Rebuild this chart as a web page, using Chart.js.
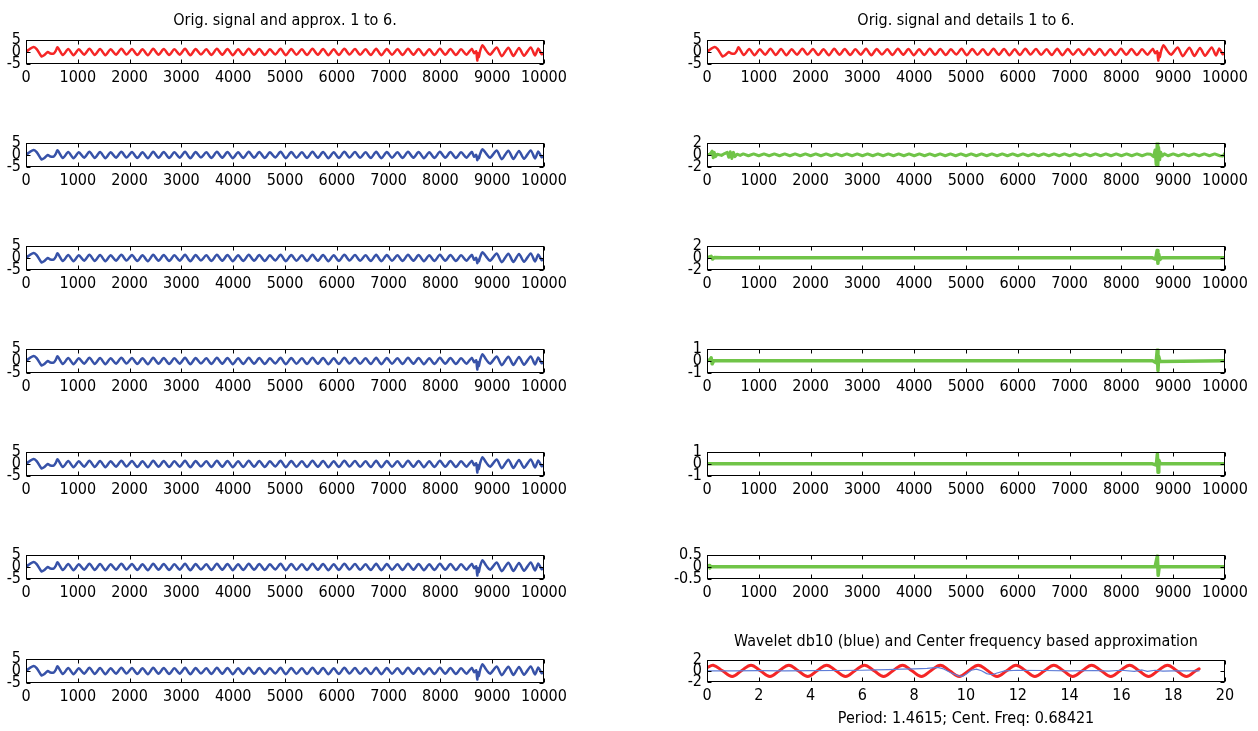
<!DOCTYPE html>
<html><head><meta charset="utf-8">
<script src="https://cdn.jsdelivr.net/npm/chart.js@4.4.1/dist/chart.umd.min.js"></script>
<style>
html,body{margin:0;padding:0;background:#fff;}
#wrap{position:relative;width:1258px;height:731px;overflow:hidden;background:#fff;}
canvas{position:absolute;}
.ttl{position:absolute;font-family:"Liberation Sans Narrow","Arial Narrow","DejaVu Sans Condensed","Liberation Sans",Arial,sans-serif;font-size:16px;color:#000;text-align:center;white-space:nowrap;line-height:20px;width:500px;}
</style></head><body><div id="wrap"></div>
<script>
// ---------------- data ----------------
const sampleTicks = [0,1000,2000,3000,4000,5000,6000,7000,8000,9000,10000];
const waveTicks = [0,2,4,6,8,10,12,14,16,18,20];
const ticks5 = [-5,0,5];
const ticks2 = [-2,0,2];
const ticks1 = [-1,0,1];
const ticksHalf = [-0.5,0,0.5];

// original signal: start segment
const headX = [0, 50, 150, 210, 300, 350, 420, 470, 540, 575];
const headY = [-0.2, 0.8, 2.0, 1.0, -1.9, -1.4, -0.1, -0.7, -0.6, 0.4];
// regular oscillation (peaks / troughs)
const bodyX = [610,712,815,917,1020,1122,1225,1327,1430,1532,1635,1737,1840,1942,2045,2147,2250,2352,2455,2557,
  2660,2762,2865,2967,3070,3172,3275,3377,3480,3582,3685,3787,3890,3992,4095,4197,4300,4402,4505,4607,
  4710,4812,4915,5017,5120,5222,5325,5427,5530,5632,5735,5837,5940,6042,6145,6247,6350,6452,6555,6657,
  6760,6862,6965,7067,7170,7272,7375,7477,7580,7682,7785,7887,7990,8092,8195,8297,8400,8502,8605];
const bodyY = [1.8,-1.3, 1.1,-1.4, 1.0,-1.2, 1.2,-1.3, 1.1,-1.4, 1.0,-1.2, 1.2,-1.1, 1.1,-1.3, 1.0,-1.4, 1.2,-1.2,
  1.1,-1.3, 1.0,-1.2, 1.2,-1.4, 1.1,-1.1, 1.0,-1.3, 1.2,-1.2, 1.1,-1.4, 1.0,-1.3, 1.2,-1.2, 1.1,-1.3,
  1.0,-1.1, 1.2,-1.4, 1.1,-1.2, 1.0,-1.3, 1.2,-1.2, 1.1,-1.4, 1.0,-1.3, 1.2,-1.1, 1.1,-1.2, 1.0,-1.3,
  1.2,-1.4, 1.1,-1.2, 1.0,-1.3, 1.2,-1.2, 1.1,-1.4, 1.0,-1.3, 1.2,-1.2, 1.1,-1.3, 1.0,-1.2, 1.2];
// disturbance near 8700
const spikeX = [8650, 8690, 8712, 8725, 8742, 8765, 8812];
const spikeY = [-0.6, 0.2, -3.6, -0.6, -2.2, 0.2, 2.7];
const spikeSoftY = [-0.8, 0.0, -2.2, -0.9, -1.4, 0.2, 2.3];
// end segment
const tailX = [8880, 8960, 9088, 9184, 9312, 9409, 9518, 9614, 9743, 9827, 9890, 9955, 10000];
const tailY = [0.6, -1.2, 1.8, -1.8, 1.7, -1.7, 1.6, -1.6, 1.8, -1.5, 1.4, -1.0, -0.3];

// detail 1 (row 2 right)
const d1X = [0,60,100,120,140,165,200,280,340,390,420,450,480,510,540,580,640,
  700,800,900,1000,1100,1200,1300,1400,1500,1600,1700,1800,1900,2000,2100,2200,2300,2400,2500,2600,2700,2800,2900,
  3000,3100,3200,3300,3400,3500,3600,3700,3800,3900,4000,4100,4200,4300,4400,4500,4600,4700,4800,4900,
  5000,5100,5200,5300,5400,5500,5600,5700,5800,5900,6000,6100,6200,6300,6400,6500,6600,6700,6800,6900,
  7000,7100,7200,7300,7400,7500,7600,7700,7800,7900,8000,8100,8200,8300,8400,8500,
  8560,8620,8650,8670,8690,8705,8720,8740,8760,8790,8830,
  8900,9000,9100,9200,9300,9400,9500,9600,9700,9800,9900,9960,10000];
const d1Y = [0,0.1,0.6,-0.5,0.4,-0.3,0.1,-0.1,0.2,0.4,-0.4,0.5,-0.6,0.4,-0.3,0.1,-0.1,
  0.15,-0.15,0.15,-0.15,0.15,-0.15,0.15,-0.15,0.15,-0.15,0.15,-0.15,0.15,-0.15,0.15,-0.15,0.15,-0.15,0.15,-0.15,0.15,-0.15,0.15,
  -0.15,0.15,-0.15,0.15,-0.15,0.15,-0.15,0.15,-0.15,0.15,-0.15,0.15,-0.15,0.15,-0.15,0.15,-0.15,0.15,-0.15,0.15,
  -0.15,0.15,-0.15,0.15,-0.15,0.15,-0.15,0.15,-0.15,0.15,-0.15,0.15,-0.15,0.15,-0.15,0.15,-0.15,0.15,-0.15,0.15,
  -0.15,0.15,-0.15,0.15,-0.15,0.15,-0.15,0.15,-0.15,0.15,-0.15,0.15,-0.15,0.15,-0.15,0.15,
  0.1,-0.3,0.8,-1.6,2.0,-2.0,1.2,-0.8,0.4,-0.2,0.15,
  -0.15,0.15,-0.15,0.15,-0.15,0.15,-0.15,0.15,-0.15,0.15,-0.15,-0.2,0.3];
// detail 2 (row 3 right)
const d2X = [0,80,110,140,300,8600,8660,8690,8705,8720,8740,8780,10000];
const d2Y = [0,0.25,-0.2,0.05,0,0,-0.2,1.2,-0.9,0.6,-0.3,0,0];
// detail 3 (row 4 right)
const d3X = [0,60,80,100,130,8600,8670,8692,8706,8720,8745,10000];
const d3Y = [0,0.1,0.25,-0.25,0,0,-0.15,0.9,-0.8,0.35,-0.05,0];
// detail 4 (row 5 right)
const d4X = [0,8600,8675,8694,8708,8722,8750,10000];
const d4Y = [0,0,-0.1,0.8,-0.7,0.3,0,0];
// detail 5 (row 6 right)
const d5X = [0,40,55,70,8650,8695,8710,8730,10000];
const d5Y = [0,0.05,-0.05,0,0,0.45,-0.35,0,0];

// wavelet db10 (blue) and centre-frequency approximation (red)
const waveX = [0,1,2,3,4,5,6,6.5,7,7.5,8,8.5,8.9,9.1,9.4,9.7,9.85,10.0,10.2,10.4,10.6,10.8,11.0,11.2,11.5,12,13,14,15,15.5,16,16.5,16.8,17,17.3,17.6,18,19];
const waveY = [0,0,0.02,0,0.03,0.05,0.1,0.15,0.2,0.3,0.35,0.45,0.6,0.4,-0.3,-0.9,-1.0,-0.6,0.1,0.3,0.0,-0.5,-0.7,-0.4,0.0,0.1,0.05,0,0.05,-0.05,0.1,-0.1,0.15,-0.1,0.1,-0.05,0,0];
const cfX = [0,0.24,0.6,0.97,1.33,1.7,2.06,2.43,2.79,3.16,3.52,3.89,4.25,4.62,4.98,5.35,5.71,6.08,6.45,6.82,7.18,7.55,7.91,8.28,8.64,9.01,
  9.37,9.74,10.1,10.47,10.84,11.2,11.57,11.93,12.3,12.66,13.03,13.39,13.76,14.12,14.49,14.85,15.22,15.59,15.95,16.32,16.68,17.05,17.41,17.78,18.14,18.51,18.87,19.0];
const cfY = [0.55,1,0,-1,0,1,0,-1,0,1,0,-1,0,1,0,-1,0,1,0,-1,0,1,0,-1,0,1,
  0,-1,0,1,0,-1,0,1,0,-1,0,1,0,-1,0,1,0,-1,0,1,0,-1,0,1,0,-1,0,0.35];

// ---------------- rendering ----------------
const FONT = '"Liberation Sans Narrow","Arial Narrow","DejaVu Sans Condensed","Liberation Sans",Arial,sans-serif';
const RED = 'rgb(245,38,38)', BLUE = 'rgb(55,82,168)', GREEN = 'rgb(112,196,72)', LBLUE = 'rgb(95,125,215)';
const wrap = document.getElementById('wrap');
const pts = (xs, ys) => xs.map((x, i) => ({x: x, y: ys[i]}));
const cat = (...arrs) => [].concat(...arrs);

const origXs = cat(headX, bodyX, spikeX, tailX);
const origYs = cat(headY, bodyY, spikeY, tailY);
const softYs = cat(headY, bodyY, spikeSoftY, tailY);

const framePlugin = {id:'frame', afterDatasetsDraw(ch){
  const ctx = ch.ctx, a = ch.chartArea, x = ch.scales.x, y = ch.scales.y;
  ctx.save(); ctx.strokeStyle = '#000'; ctx.lineWidth = 1;
  const L = Math.round(a.left)+0.5, R = Math.round(a.right)-0.5, T = Math.round(a.top)+0.5, B = Math.round(a.bottom)-0.5;
  ctx.strokeRect(L, T, R-L, B-T);
  ctx.beginPath();
  x.ticks.forEach(t => { const p = Math.round(x.getPixelForValue(t.value))+0.5; ctx.moveTo(p,T); ctx.lineTo(p,T+4); ctx.moveTo(p,B); ctx.lineTo(p,B-4); });
  y.ticks.forEach(t => { const p = Math.round(y.getPixelForValue(t.value))+0.5; ctx.moveTo(L,p); ctx.lineTo(L+4,p); ctx.moveTo(R,p); ctx.lineTo(R-4,p); });
  ctx.stroke(); ctx.restore();
}};

const PADL = 48, PADR = 34, PADT = 14, PADB = 34;
function panel(box, xr, xt, yr, yt, datasets){
  const c = document.createElement('canvas');
  const W = box.w + PADL + PADR, H = box.h + PADT + PADB;
  c.width = W; c.height = H;
  c.style.left = (box.x - PADL) + 'px'; c.style.top = (box.y - PADT) + 'px';
  c.style.width = W + 'px'; c.style.height = H + 'px';
  wrap.appendChild(c);
  const tickFont = {family: FONT, size: 16};
  new Chart(c, {
    type: 'line',
    data: {datasets: datasets},
    options: {
      responsive: false, animation: false, events: [],
      layout: {autoPadding: false, padding: {left: 0, right: PADR, top: PADT, bottom: 0}},
      plugins: {legend: {display: false}, tooltip: {enabled: false}, title: {display: false}},
      elements: {point: {radius: 0}, line: {tension: 0, borderJoinStyle: 'round', borderCapStyle: 'round'}},
      scales: {
        x: {type: 'linear', min: xr[0], max: xr[1],
          afterFit: s => { s.height = PADB; },
          afterBuildTicks: s => { s.ticks = xt.map(v => ({value: v})); },
          border: {display: false}, grid: {display: false, drawTicks: false},
          ticks: {autoSkip: false, maxRotation: 0, minRotation: 0, padding: 4, color: '#000', font: tickFont, callback: v => String(v)}},
        y: {type: 'linear', min: yr[0], max: yr[1],
          afterFit: s => { s.width = PADL; },
          afterBuildTicks: s => { s.ticks = yt.map(v => ({value: v})); },
          border: {display: false}, grid: {display: false, drawTicks: false},
          ticks: {autoSkip: false, padding: 5, color: '#000', font: tickFont, callback: v => String(v)}}
      }
    },
    plugins: [framePlugin]
  });
}
function ds(xs, ys, color, w, extra){
  return Object.assign({data: pts(xs, ys), borderColor: color, borderWidth: w, fill: false, pointRadius: 0}, extra || {});
}
function title(text, cx, cy){
  const d = document.createElement('div'); d.className = 'ttl'; d.textContent = text;
  d.style.left = (cx - 250) + 'px'; d.style.top = (cy - 10) + 'px'; wrap.appendChild(d);
}

const LX = 26, RX = 707, BW = 518, BH = 25;
const rowsY = [39, 142, 245, 348, 451, 554, 658];
const SMOOTH = {tension: 0.25};

// left column: original + approximations
panel({x: LX, y: rowsY[0], w: BW, h: BH}, [0,10000], sampleTicks, [-5,5], ticks5, [ds(origXs, origYs, RED, 2.5, SMOOTH)]);
panel({x: LX, y: rowsY[1], w: BW, h: BH}, [0,10000], sampleTicks, [-5,5], ticks5, [ds(origXs, softYs, BLUE, 2.5, SMOOTH)]);
panel({x: LX, y: rowsY[2], w: BW, h: BH}, [0,10000], sampleTicks, [-5,5], ticks5, [ds(origXs, softYs, BLUE, 2.5, SMOOTH)]);
panel({x: LX, y: rowsY[3], w: BW, h: BH}, [0,10000], sampleTicks, [-5,5], ticks5, [ds(origXs, origYs, BLUE, 2.5, SMOOTH)]);
panel({x: LX, y: rowsY[4], w: BW, h: BH}, [0,10000], sampleTicks, [-5,5], ticks5, [ds(origXs, origYs, BLUE, 2.5, SMOOTH)]);
panel({x: LX, y: rowsY[5], w: BW, h: BH}, [0,10000], sampleTicks, [-5,5], ticks5, [ds(origXs, origYs, BLUE, 2.5, SMOOTH)]);
panel({x: LX, y: rowsY[6], w: BW, h: BH}, [0,10000], sampleTicks, [-5,5], ticks5, [ds(origXs, origYs, BLUE, 2.5, SMOOTH)]);

// right column: original + details
panel({x: RX, y: rowsY[0], w: BW, h: BH}, [0,10000], sampleTicks, [-5,5], ticks5, [ds(origXs, origYs, RED, 2.5, SMOOTH)]);
panel({x: RX, y: rowsY[1], w: BW, h: BH}, [0,10000], sampleTicks, [-2,2], ticks2, [ds(d1X, d1Y, GREEN, 3)]);
panel({x: RX, y: rowsY[2], w: BW, h: BH}, [0,10000], sampleTicks, [-2,2], ticks2, [ds(d2X, d2Y, GREEN, 3.5)]);
panel({x: RX, y: rowsY[3], w: BW, h: BH}, [0,10000], sampleTicks, [-1,1], ticks1, [ds(d3X, d3Y, GREEN, 3.5)]);
panel({x: RX, y: rowsY[4], w: BW, h: BH}, [0,10000], sampleTicks, [-1,1], ticks1, [ds(d4X, d4Y, GREEN, 3.5)]);
panel({x: RX, y: rowsY[5], w: BW, h: BH}, [0,10000], sampleTicks, [-0.5,0.5], ticksHalf, [ds(d5X, d5Y, GREEN, 3.5)]);
panel({x: RX, y: 659, w: BW, h: 23}, [0,20], waveTicks, [-2,2], ticks2, [
  ds(waveX, waveY, LBLUE, 1.2),
  ds(cfX, cfY, RED, 3, {tension: 0.4})
]);

title('Orig. signal and approx. 1 to 6.', 285, 20);
title('Orig. signal and details 1 to 6.', 966, 20);
title('Wavelet db10 (blue) and Center frequency based approximation', 966, 641);
title('Period: 1.4615; Cent. Freq: 0.68421', 966, 718);
</script>
</body></html>
